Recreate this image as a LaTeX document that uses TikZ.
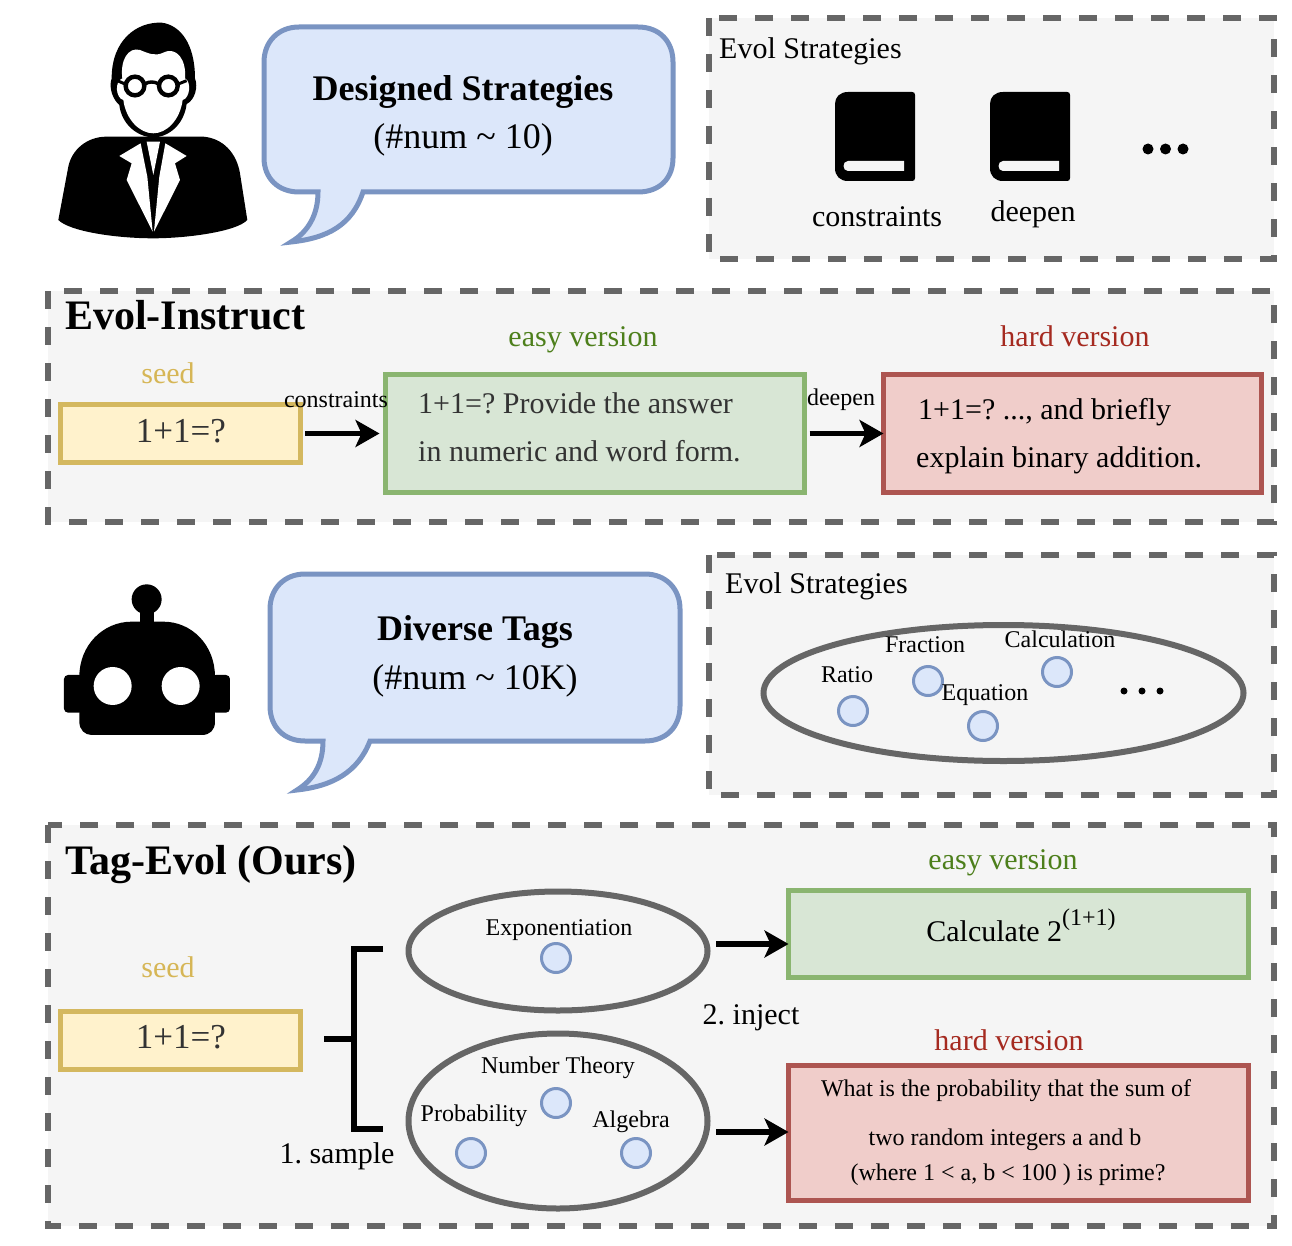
\documentclass[tikz,border=0pt]{standalone}
\usepackage{fontspec}
\setmainfont{Liberation Serif}
\usetikzlibrary{arrows.meta,shapes.geometric}
\definecolor{panelfill}{HTML}{F5F5F5}
\definecolor{panelline}{HTML}{666666}
\definecolor{bluefill}{HTML}{DCE7FA}
\definecolor{blueline}{HTML}{7A94C2}
\definecolor{yelfill}{HTML}{FFF2CC}
\definecolor{yelline}{HTML}{D4B85F}
\definecolor{grnfill}{HTML}{D8E6D5}
\definecolor{grnline}{HTML}{8AB570}
\definecolor{redfill}{HTML}{F0CDCA}
\definecolor{redline}{HTML}{AD5551}
\definecolor{easytxt}{HTML}{4D7F1B}
\definecolor{hardtxt}{HTML}{A52A20}
\definecolor{seedtxt}{HTML}{D6B656}
\definecolor{bodytxt}{HTML}{333333}
\tikzset{
  panel/.style={fill=panelfill,draw=panelline,line width=5.5pt,dash pattern=on 18pt off 18pt},
  bubble/.style={fill=bluefill,draw=blueline,line width=5pt,line join=miter},
  boxy/.style={rectangle,line width=5pt,inner sep=0pt,outer sep=0pt},
  yelbox/.style={boxy,fill=yelfill,draw=yelline},
  grnbox/.style={boxy,fill=grnfill,draw=grnline},
  redbox/.style={boxy,fill=redfill,draw=redline},
  t36/.style={font=\fontsize{36}{43}\selectfont,inner sep=0pt},
  t35/.style={font=\fontsize{35}{42}\selectfont,inner sep=0pt},
  t30/.style={font=\fontsize{30}{36}\selectfont,inner sep=0pt},
  t24/.style={font=\fontsize{24}{29}\selectfont,inner sep=0pt},
  bold36/.style={font=\fontsize{36}{43}\selectfont\bfseries,inner sep=0pt},
  bold42/.style={font=\fontsize{42}{50}\selectfont\bfseries,inner sep=0pt,anchor=west},
  tagset/.style={ellipse,draw=panelline,line width=6pt,inner sep=0pt,outer sep=0pt},
  tagdot/.style={circle,fill=bluefill,draw=blueline,line width=3pt,minimum size=29pt,inner sep=0pt},
  arr/.style={draw=black,line width=5.5pt,-{Stealth[length=24pt,width=27pt,inset=6pt]}},
  bracket/.style={draw=black,line width=6pt,line cap=butt,line join=miter},
  inkdot/.style={circle,fill=black,inner sep=0pt}
}
\newcommand{\bookicon}[1]{%
  \fill[black,xshift=#1pt] (835,104) .. controls (835,97) and (840,92) .. (848,92) -- (912,92)
    .. controls (914,92) and (915,93) .. (915,95) -- (915,178) .. controls (915,180) and (914,181) .. (912,181)
    -- (848,181) .. controls (840,181) and (835,176) .. (835,168) -- cycle;
  \fill[panelfill,xshift=#1pt] (848,161) -- (904,161) -- (904,171) -- (848,171)
    .. controls (842,171) and (842,161) .. (848,161) -- cycle;
}
\begin{document}
\frenchspacing
\begin{tikzpicture}[x=1pt,y=-1pt]
\useasboundingbox (0,0) rectangle (1292,1246);
% panels
\draw[panel] (709,18) rectangle (1274,259);
\draw[panel] (48,291) rectangle (1274,522);
\draw[panel] (709,555) rectangle (1274,795);
\draw[panel] (48,825) rectangle (1274,1226);

% person
\begin{scope}[shift={(40,10)},x=0.3333pt,y=-0.3333pt]
  \fill[black] (55,630) -- (85,470) .. controls (95,420) and (140,380) .. (200,380) -- (490,380)
    .. controls (550,385) and (590,430) .. (600,490) -- (622,630)
    .. controls (590,665) and (440,685) .. (340,685) .. controls (230,685) and (90,665) .. (55,630) -- cycle;
  \fill[black] (215,205) .. controls (215,90) and (290,35) .. (365,38) .. controls (420,45) and (465,100) .. (465,205)
    .. controls (475,230) and (465,270) .. (440,282) .. controls (432,345) and (385,382) .. (340,382)
    .. controls (295,382) and (245,345) .. (238,285) .. controls (220,270) and (205,235) .. (215,205) -- cycle;
  \fill[white] (247,205) .. controls (240,150) and (265,110) .. (300,120) .. controls (325,130) and (345,140) .. (370,128)
    .. controls (410,108) and (440,150) .. (435,205) .. controls (455,215) and (450,265) .. (428,270)
    .. controls (420,330) and (380,370) .. (340,370) .. controls (300,370) and (258,330) .. (250,270)
    .. controls (228,265) and (222,215) .. (247,205) -- cycle;
  \draw[black,line width=4.4pt] (285,228) circle (28) (385,228) circle (28);
  \draw[black,line width=3.4pt] (315,222) .. controls (325,214) and (345,214) .. (355,222);
  \draw[black,line width=3pt] (255,222) -- (232,212) (415,222) -- (440,212);
  \fill[white] (302,400) -- (238,438) -- (275,460) -- (260,510) -- (338,665) -- (322,500) -- cycle;
  \fill[white] (376,400) -- (440,438) -- (405,460) -- (420,510) -- (342,665) -- (358,500) -- cycle;
  \fill[white] (320,395) -- (360,395) -- (340,495) -- cycle;
\end{scope}

% robot
\begin{scope}[shift={(40,570)},x=0.3333pt,y=-0.3333pt]
  \fill[black] (320,88) circle (45);
  \fill[black] (300,110) rectangle (342,170);
  \fill[black] (118,320) .. controls (118,225) and (190,155) .. (275,155) -- (370,155)
    .. controls (455,155) and (525,225) .. (525,320) -- (525,455) .. controls (525,480) and (510,495) .. (485,495)
    -- (155,495) .. controls (135,495) and (118,480) .. (118,455) -- cycle;
  \fill[black,rounded corners=4pt] (72,315) rectangle (130,428);
  \fill[black,rounded corners=4pt] (515,315) rectangle (570,428);
  \fill[white] (218,348) circle (57);
  \fill[white] (422,348) circle (57);
\end{scope}

% bubbles
\draw[bubble] (299,27) -- (638,27) .. controls (660,27) and (673,42) .. (673,62) -- (673,158)
  .. controls (673,178) and (660,192) .. (638,192) -- (363,192)
  .. controls (352,225) and (328,238) .. (291,242)
  .. controls (308,232) and (318,215) .. (318,192) -- (299,192)
  .. controls (278,192) and (264,178) .. (264,158) -- (264,62) .. controls (264,42) and (278,27) .. (299,27) -- cycle;
\draw[bubble] (305,574) -- (645,574) .. controls (666,574) and (680,589) .. (680,609) -- (680,706)
  .. controls (680,727) and (666,741) .. (645,741) -- (370,741)
  .. controls (358,772) and (333,786) .. (297,790)
  .. controls (313,780) and (323,765) .. (323,741) -- (305,741)
  .. controls (284,741) and (270,727) .. (270,706) -- (270,609) .. controls (270,589) and (284,574) .. (305,574) -- cycle;

\node[bold36] (designed) at (463,92) {Designed Strategies};
\node[t36] (designednum) at (463,140) {(\#num \textasciitilde\ 10)};
\node[bold36] (diverse) at (475,632) {Diverse Tags};
\node[t36] (diversenum) at (475,681) {(\#num \textasciitilde\ 10K)};

% top strategies
\node[t30,anchor=west] (stratA) at (719,51) {Evol Strategies};
\bookicon{0}
\bookicon{155}
\node[t30] (lblcons) at (877,217) {constraints};
\node[t30] (lbldeep) at (1033,214) {deepen};
\node[inkdot,minimum size=11pt] (da1) at (1148,149) {};
\node[inkdot,minimum size=11pt] (da2) at (1165.5,149) {};
\node[inkdot,minimum size=11pt] (da3) at (1183,149) {};

% Evol-Instruct
\node[bold42] (evolinstruct) at (65,315) {Evol-Instruct};
\node[t30,text=seedtxt] (seedA) at (168,373) {seed};
\node[yelbox,minimum width=240pt,minimum height=58pt] (seedboxA) at (180,433.5) {};
\node[t35,text=bodytxt] (seedtextA) at (181,431) {1+1=?};
\node[t30,text=easytxt] (easyA) at (583,340) {easy version};
\node[grnbox,minimum width=419pt,minimum height=118pt] (easyboxA) at (595,433.5) {};
\node[t30,text=hardtxt] (hardA) at (1075,336) {hard version};
\node[redbox,minimum width=378pt,minimum height=118pt] (hardboxA) at (1072.5,433.5) {};
\node[t24] (consA) at (336,400) {constraints};
\node[t24] (deepA) at (841,400) {deepen};
\draw[arr,shorten <=5pt,shorten >=6pt] (seedboxA.east) -- (easyboxA.west);
\draw[arr,shorten <=5pt,shorten >=0pt] (easyboxA.east) -- (hardboxA.west);
\node[t30,anchor=west,text=bodytxt] (ea1) at (418,403) {1+1=? Provide the answer};
\node[t30,anchor=west,text=bodytxt] (ea2) at (418,451) {in numeric and word form.};
\node[t30,anchor=west] (ha1) at (918,412) {1+1=? ..., and briefly};
\node[t30,anchor=west] (ha2) at (916,460) {explain binary addition.};

% robot strategies
\node[t30,anchor=west] (stratB) at (725,586) {Evol Strategies};
\node[tagset,minimum width=480pt,minimum height=136pt] (cloud) at (1003.5,693) {};
\node[t24] (lratio) at (847,675) {Ratio};
\node[t24] (lfrac) at (925,645) {Fraction};
\node[t24] (lcalc) at (1060,639) {Calculation};
\node[tagdot] (c1) at (853,711) {};
\node[tagdot] (c2) at (928,681) {};
\node[tagdot] (c3) at (1057,672) {};
\node[tagdot] (c4) at (983,726) {};
\node[t24] (lequ) at (985,695) {Equation};
\node[inkdot,minimum size=7pt] (db1) at (1124,691) {};
\node[inkdot,minimum size=7pt] (db2) at (1142,691) {};
\node[inkdot,minimum size=7pt] (db3) at (1160,691) {};

% Tag-Evol
\node[bold42] (tagevol) at (65,865) {Tag-Evol (Ours)};
\node[t30,text=seedtxt] (seedB) at (168,967) {seed};
\node[yelbox,minimum width=240pt,minimum height=58pt] (seedboxB) at (180,1040) {};
\node[t35,text=bodytxt] (seedtextB) at (181,1037) {1+1=?};
\node[t30,text=easytxt] (easyB) at (1003,863) {easy version};
\node[grnbox,minimum width=460pt,minimum height=87pt] (easyboxB) at (1018.5,934) {};
\node[t30] (calc) at (1021,925.5) {Calculate 2\raisebox{16pt}{\fontsize{24}{24}\selectfont(1+1)}};
\node[t30,text=hardtxt] (hardB) at (1009,1040) {hard version};
\node[redbox,minimum width=460pt,minimum height=135pt] (hardboxB) at (1018.5,1133) {};
\node[t24] (h1) at (1006,1091) {What is the probability that the sum of};
\node[t24] (h2) at (1005,1140) {two random integers a and b};
\node[t24] (h3) at (1008,1175) {(where 1 < a, b < 100 ) is prime?};

\node[tagset,minimum width=299pt,minimum height=119pt] (settop) at (558,951) {};
\node[tagset,minimum width=299pt,minimum height=175pt] (setbot) at (558,1121) {};
\node[t24] (lexp) at (559,930) {Exponentiation};
\node[tagdot] (e1) at (556,958) {};
\node[t24] (lnum) at (558,1068) {Number Theory};
\node[t24] (lprob) at (474,1116) {Probability};
\node[t24] (lalg) at (631,1122) {Algebra};
\node[tagdot] (n1) at (556,1103) {};
\node[tagdot] (n2) at (471,1153) {};
\node[tagdot] (n3) at (636,1153) {};

\coordinate (brtop) at (383,949);
\coordinate (brbot) at (383,1129);
\coordinate (brmid) at (354,1039);
\coordinate (brstem) at (324,1039);
\draw[bracket] (brtop) -- (brmid |- brtop) -- (brmid |- brbot) -- (brbot);
\draw[bracket] (brstem) -- (brmid);
\node[t30] (samp) at (337,1156) {1. sample};
\node[t30] (inj) at (751,1018) {2. inject};
\coordinate (a1) at (716,944);
\coordinate (a2) at (716,1132);
\draw[arr] (a1) -- (easyboxB.west |- a1);
\draw[arr] (a2) -- (hardboxB.west |- a2);
\end{tikzpicture}
\end{document}
